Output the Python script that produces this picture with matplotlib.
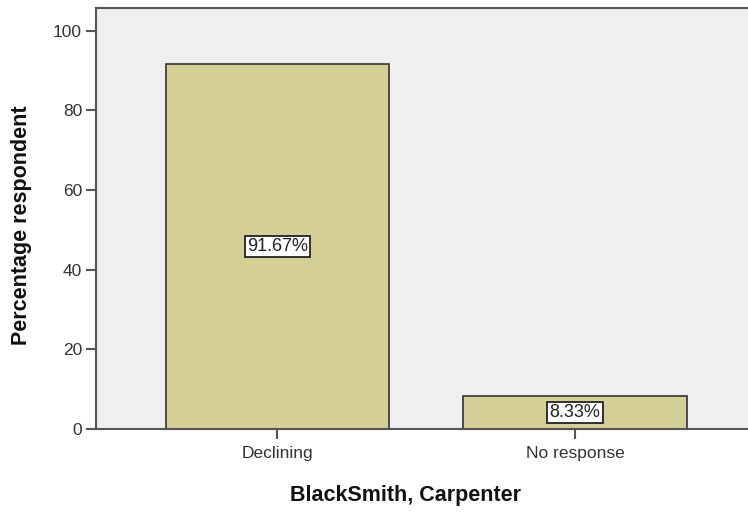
import matplotlib

matplotlib.use("Agg")
import matplotlib.pyplot as plt

categories = ["Declining", "No response"]
percentages = [91.67, 8.33]
y_ticks = [0, 20, 40, 60, 80, 100]

plt.rcParams["font.family"] = ["Liberation Sans", "DejaVu Sans"]

fig = plt.figure(figsize=(7.48, 5.12), dpi=100)
ax = fig.add_axes([0.1283, 0.1621, 0.883, 0.8232])
ax.set_facecolor("#efefef")

x = list(range(len(categories)))
ax.bar(x, percentages, width=0.75, color="#d3cf97", edgecolor="#333333", linewidth=1.2, zorder=2)

# value boxes sit halfway up each bar
for xi, v in zip(x, percentages):
    ax.text(xi, v / 2, f"{v:.2f}%", ha="center", va="center", fontsize=13, color="#222222",
            bbox=dict(boxstyle="square,pad=0.12", facecolor="white", edgecolor="#222222", linewidth=1.3),
            zorder=3)

ax.set_xlim(-0.61, 1.61)
ax.set_ylim(0, 105.8)
ax.set_xticks(x)
ax.set_xticklabels(categories)
ax.set_yticks(y_ticks)

for side in ("top", "left", "bottom"):
    ax.spines[side].set_color("#555555")
    ax.spines[side].set_linewidth(1.5)
ax.spines["right"].set_visible(False)
ax.tick_params(axis="both", colors="#555555", width=1.5, length=7, labelsize=12.5, labelcolor="#333333")
ax.tick_params(axis="x", pad=5)
ax.tick_params(axis="y", pad=3)

ax.set_ylabel("Percentage respondent", fontsize=15.5, fontweight="bold", color="#111111")
ax.set_xlabel("BlackSmith, Carpenter", fontsize=15.5, fontweight="bold", color="#111111")
ax.yaxis.set_label_coords(-0.097, 0.484)
ax.xaxis.set_label_coords(0.469, -0.133)

fig.savefig("out.png", dpi=100)
plt.close(fig)
